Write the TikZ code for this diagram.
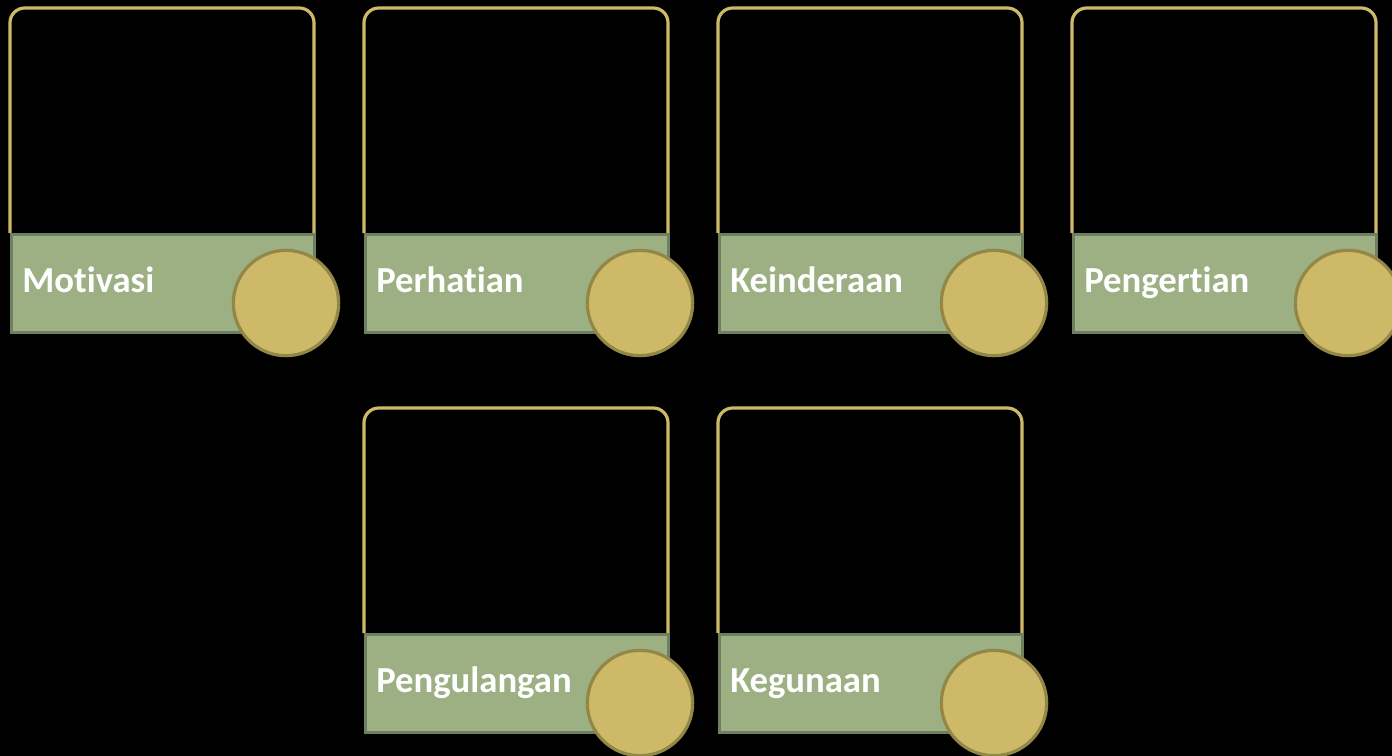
\documentclass[tikz,border=0pt]{standalone}
\usepackage{fontspec}
\setmainfont{Carlito}[Ligatures=NoCommon]
\definecolor{framegold}{HTML}{CDB967}
\definecolor{barfill}{HTML}{9CB084}
\definecolor{barline}{HTML}{6E8060}
\definecolor{dotfill}{HTML}{CDB967}
\definecolor{dotline}{HTML}{938747}
\tikzset{
  cardframe/.style={draw=framegold, line width=2.4pt, rounded corners=11pt},
  bar/.style={draw=barline, fill=barfill, line width=2.2pt, rectangle, inner sep=0pt, minimum width=227pt, minimum height=73.5pt, anchor=north west},
  dot/.style={draw=dotline, fill=dotfill, line width=2.4pt, circle, inner sep=0pt, minimum size=79pt},
  lbl/.style={text=white, font=\bfseries\fontsize{27.5}{30}\selectfont, anchor=base west, inner sep=0pt}
}
\newcommand{\mycard}[4]{%
  % #1 name, #2 x, #3 y, #4 label
  \draw[cardframe] (#2,#3+225) -- (#2,#3) -- (#2+304,#3) -- (#2+304,#3+225);
  \node[bar] (#1bar) at (#2,#3+225) {};
  \node[lbl] (#1lbl) at (#2+12,#3+284) {#4};
  \node[dot] (#1dot) at (#2+276,#3+295) {};
}
\begin{document}
\begin{tikzpicture}[x=0.75pt,y=-0.75pt]
\fill[black] (0,0) rectangle (1392,756);
\useasboundingbox (0,0) rectangle (1392,756);
\mycard{motivasi}{10}{8}{Motivasi}
\mycard{perhatian}{364}{8}{Perhatian}
\mycard{keinderaan}{718}{8}{Keinderaan}
\mycard{pengertian}{1072}{8}{Pengertian}
\mycard{pengulangan}{364}{408}{Pengulangan}
\mycard{kegunaan}{718}{408}{Kegunaan}
\end{tikzpicture}
\end{document}
